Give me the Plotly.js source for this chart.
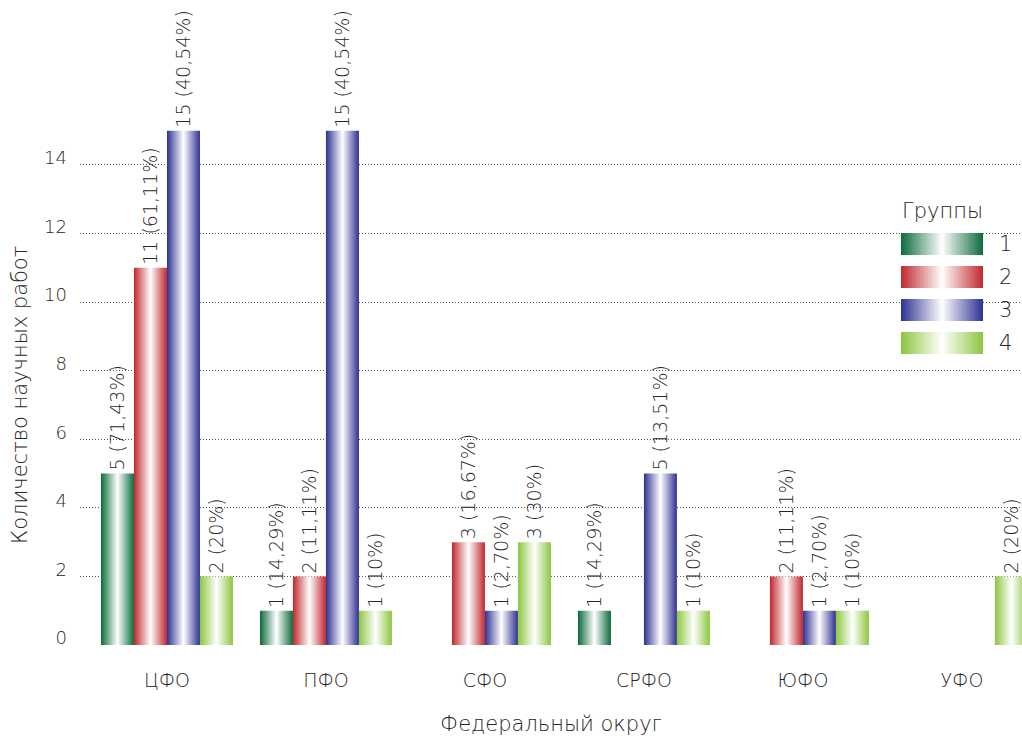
<!DOCTYPE html>
<html><head><meta charset="utf-8">
<script src="https://cdn.plot.ly/plotly-3.0.1.min.js"></script>
<style>html,body{margin:0;padding:0;background:#fff}</style>
</head><body><div id="chart" style="width:1022px;height:736px"></div>
<script>
const categories = ['ЦФО','ПФО','СФО','СРФО','ЮФО','УФО'];
const groupNames = ['1','2','3','4'];
const group1 = [5, 1, null, 1, null, null];
const group2 = [11, 2, 3, null, 2, null];
const group3 = [15, 15, 1, 5, 1, null];
const group4 = [2, 1, 3, 1, 1, 2];
const group1Pct = ['71,43%','14,29%','','14,29%','',''];
const group2Pct = ['61,11%','11,11%','16,67%','','11,11%',''];
const group3Pct = ['40,54%','40,54%','2,70%','13,51%','2,70%',''];
const group4Pct = ['20%','10%','30%','10%','10%','20%'];
const yTicks = [0,2,4,6,8,10,12,14];
const legendTitle = 'Группы';
const xTitle = 'Федеральный округ';
const yTitle = 'Количество научных работ';

const colors = ['#0b6b3c','#c1272d','#2e3192','#8dc63f'];
const FONT = '"DejaVu Sans", sans-serif';
const W = 200;
const TXT = '#262626';

const values = [group1, group2, group3, group4];
const pcts = [group1Pct, group2Pct, group3Pct, group4Pct];

const traces = values.map((vals, i) => ({
  type: 'bar',
  name: groupNames[i],
  x: categories,
  y: vals,
  text: vals.map((v, j) => v == null ? '' : v + ' (' + pcts[i][j] + ')'),
  textposition: 'outside',
  textangle: -90,
  cliponaxis: false,
  constraintext: 'none',
  textfont: {family: FONT, size: 19, color: TXT, weight: W},
  marker: {color: colors[i], line: {width: 0}},
  hoverinfo: 'skip'
}));

// pixel -> paper helpers (plot area: x 80..1022, y 10..645)
const L = 80, R = 1022, T = 10, B = 645;
const px = x => (x - L) / (R - L);
const py = y => (B - y) / (B - T);

function gradSvg(c) {
  return 'data:image/svg+xml;utf8,' + encodeURIComponent(
    '<svg xmlns="http://www.w3.org/2000/svg" width="82" height="22" preserveAspectRatio="none">' +
    '<defs><linearGradient id="g" x1="0" x2="1" y1="0" y2="0">' +
    '<stop offset="0" stop-color="' + c + '"/><stop offset="0.5" stop-color="#ffffff"/><stop offset="1" stop-color="' + c + '"/>' +
    '</linearGradient></defs><rect width="82" height="22" fill="url(#g)"/></svg>');
}

const images = colors.map((c, i) => ({
  source: gradSvg(c), xref: 'paper', yref: 'paper',
  x: px(901), y: py(233 + i * 33), sizex: px(983) - px(901), sizey: py(0) - py(22),
  sizing: 'stretch', xanchor: 'left', yanchor: 'top', layer: 'above'
}));

const annotations = [
  {text: legendTitle, xref: 'paper', yref: 'paper', x: px(942), y: py(211), showarrow: false,
   font: {family: FONT, size: 21, color: TXT, weight: W}, xanchor: 'center', yanchor: 'middle'},
  {text: yTitle, xref: 'paper', yref: 'paper', x: px(20), y: py(395), showarrow: false, textangle: -90,
   font: {family: FONT, size: 21, color: TXT, weight: W}, xanchor: 'center', yanchor: 'middle'}
].concat(groupNames.map((n, i) => ({
  text: n, xref: 'paper', yref: 'paper', x: px(997), y: py(244 + i * 33), showarrow: false,
  font: {family: FONT, size: 21, color: TXT, weight: W}, xanchor: 'left', yanchor: 'middle'
})));

const layout = {
  width: 1022, height: 736,
  margin: {l: L, r: 1022 - R, t: T, b: 736 - B},
  paper_bgcolor: '#fff', plot_bgcolor: '#fff',
  barmode: 'group', bargap: 0.17, bargroupgap: 0,
  showlegend: false,
  font: {family: FONT, color: TXT, weight: W},
  xaxis: {
    type: 'category', range: [-0.547, 5.378], showgrid: false, zeroline: false, showline: false,
    ticks: '', tickfont: {family: FONT, size: 19, color: TXT, weight: W}, ticklabelstandoff: 22,
    title: {text: xTitle, standoff: 28, font: {family: FONT, size: 21, color: TXT, weight: W}}
  },
  yaxis: {
    range: [0, (B - T) / 34.29], tickvals: yTicks, ticktext: yTicks.map(String),
    showgrid: true, gridcolor: '#555', gridwidth: 1, griddash: '1px,2px',
    zeroline: false, showline: false, ticks: '',
    tickfont: {family: FONT, size: 18, color: TXT, weight: W}, ticklabelshift: -7, ticklabelstandoff: 12
  },
  shapes: [{type: 'rect', xref: 'paper', yref: 'paper', x0: px(833), x1: 1.01, y0: py(410), y1: py(150),
    fillcolor: '#fff', line: {width: 0}, layer: 'between'}],
  images: images,
  annotations: annotations
};

Plotly.newPlot('chart', traces, layout, {staticPlot: true}).then(gd => {
  const svg = gd.querySelector('svg.main-svg');
  const ns = 'http://www.w3.org/2000/svg';
  let defs = svg.querySelector('defs');
  if (!defs) { defs = document.createElementNS(ns, 'defs'); svg.insertBefore(defs, svg.firstChild); }
  colors.forEach((c, i) => {
    const g = document.createElementNS(ns, 'linearGradient');
    g.setAttribute('id', 'bargrad' + i);
    g.setAttribute('x1', '0'); g.setAttribute('x2', '1'); g.setAttribute('y1', '0'); g.setAttribute('y2', '0');
    [[0, c], [0.5, '#ffffff'], [1, c]].forEach(([o, col]) => {
      const s = document.createElementNS(ns, 'stop');
      s.setAttribute('offset', o); s.setAttribute('stop-color', col);
      g.appendChild(s);
    });
    defs.appendChild(g);
  });
  gd.querySelectorAll('.barlayer .trace').forEach((tr, i) => {
    tr.querySelectorAll('.point path').forEach(p => { p.style.fill = 'url(#bargrad' + i + ')'; });
  });
});
</script></body></html>
